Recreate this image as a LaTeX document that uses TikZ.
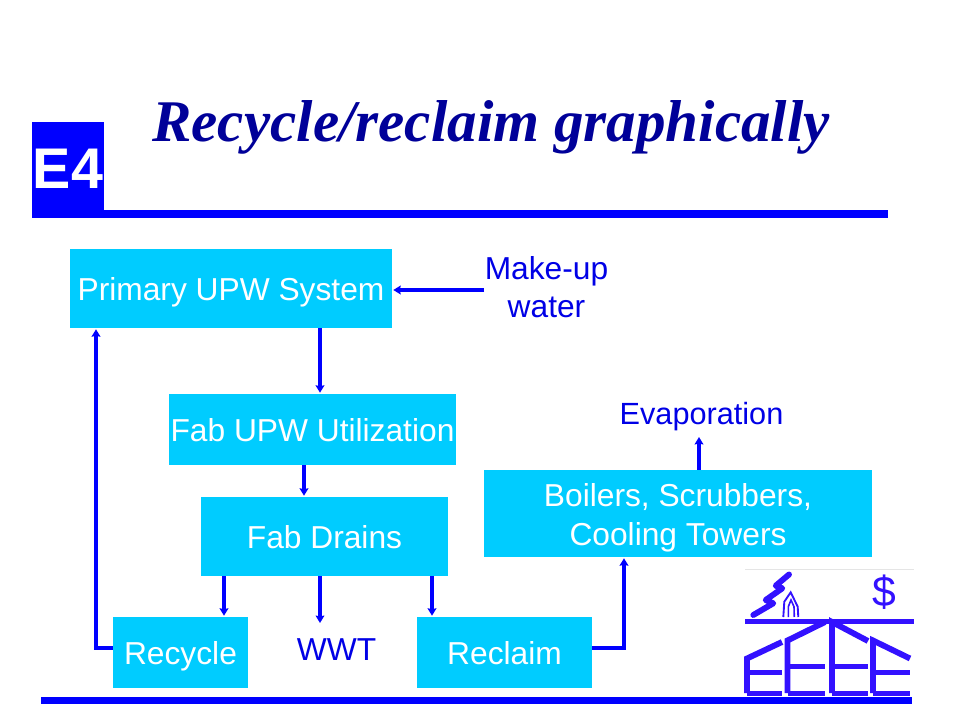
\documentclass[tikz,border=0pt]{standalone}
\usepackage{fontspec}
\setmainfont{Liberation Sans}
\newfontfamily\titlefont{Liberation Serif}
\definecolor{boxcyan}{RGB}{0,204,255}
\definecolor{linkblue}{RGB}{0,0,255}
\definecolor{textblue}{RGB}{0,0,230}
\definecolor{titleblue}{RGB}{0,0,153}
\definecolor{logoblue}{RGB}{51,17,255}
\usetikzlibrary{arrows.meta}
\tikzset{
  flowbox/.style={fill=boxcyan, text=white, inner sep=0pt, align=center, text height=22pt, text depth=4pt, font=\fontsize{23.8}{29.25}\selectfont},
  flowtext/.style={text=textblue, inner sep=0pt, align=center, font=\fontsize{23.8}{28.5}\selectfont},
  link/.style={draw=linkblue, line width=3pt, -{Stealth[length=5.5pt,width=6.5pt,inset=0.5pt]}, shorten >=0.75pt},
  logoline/.style={draw=logoblue, line width=4.4pt}
}
\begin{document}
\begin{tikzpicture}[x=0.75pt, y=-0.75pt]
\useasboundingbox (0, 0) rectangle (960, 720);
%Header
\fill [linkblue] (32, 122) rectangle (104, 218);
\fill [linkblue] (104, 210) rectangle (888, 218);
\fill [linkblue] (41, 697) rectangle (912, 704);
\node (tag) at (68, 168.5) [inner sep=0pt, text=white, font=\fontsize{43}{43}\selectfont\bfseries] {E4};
\node (title) at (491, 127) [inner sep=0pt, text=titleblue, font=\titlefont\fontsize{44.3}{45}\selectfont\bfseries\itshape] {Recycle/reclaim graphically};
%Boxes
\node (primary) at (231, 288.5) [flowbox, minimum width=322*0.75pt, minimum height=79*0.75pt] {Primary UPW System};
\node (fabupw) at (312.5, 429.5) [flowbox, minimum width=287*0.75pt, minimum height=71*0.75pt] {Fab UPW Utilization};
\node (drains) at (324.5, 536.5) [flowbox, minimum width=247*0.75pt, minimum height=79*0.75pt] {Fab Drains};
\node (recycle) at (180.5, 652.5) [flowbox, minimum width=135*0.75pt, minimum height=71*0.75pt] {Recycle};
\node (reclaim) at (504.5, 652.5) [flowbox, minimum width=175*0.75pt, minimum height=71*0.75pt] {Reclaim};
\node (boilers) at (678, 513.5) [flowbox, text height=51.25pt, minimum width=388*0.75pt, minimum height=87*0.75pt] {Boilers, Scrubbers,\\Cooling Towers};
%Text
\node (makeup) at (546.5, 287) [flowtext] {Make-up\\water};
\node (evap) at (701.5, 417) [flowtext, font=\fontsize{23}{28}\selectfont] {Evaporation};
\node (wwt) at (336.5, 650) [flowtext] {WWT};
\coordinate (makeupend) at (484, 290);
\coordinate (wwtend) at (320, 624);
\coordinate (evapend) at (699, 436);
%Connectors
\draw [link] (makeupend) -- (makeupend -| primary.east);
\draw [link] (primary.south -| 320, 0) -- (fabupw.north -| 320, 0);
\draw [link] (fabupw.south -| 304, 0) -- (drains.north -| 304, 0);
\draw [link] (drains.south -| 224, 0) -- (recycle.north -| 224, 0);
\draw [link] (drains.south -| wwtend) -- (wwtend);
\draw [link] (drains.south -| 432, 0) -- (reclaim.north -| 432, 0);
\draw [link] (recycle.west |- 0, 648) -| (primary.south -| 96, 0);
\draw [link] (reclaim.east |- 0, 648) -| (boilers.south -| 624, 0);
\draw [link] (boilers.north -| evapend) -- (evapend);
%Logo
\draw [black!10, line width=0.5pt] (745, 569.5) -- (914, 569.5);
\draw [logoline, line width=3.75pt] (745, 621) -- (914, 621);
\draw [logoline] (747, 693) -- (747, 658.5) -- (782, 642);
\draw [logoline] (747, 672.5) -- (782, 672.5);
\draw [logoline] (747, 693.5) -- (782, 693.5);
\draw [logoline] (787.5, 693) -- (787.5, 640.5) -- (825, 622);
\draw [logoline] (787.5, 666.5) -- (825, 666.5);
\draw [logoline] (787.5, 693.5) -- (825, 693.5);
\draw [logoline] (832, 693) -- (832, 622) -- (868, 641);
\draw [logoline] (832, 666.5) -- (868, 666.5);
\draw [logoline] (832, 693.5) -- (868, 693.5);
\draw [logoline] (873, 693) -- (873, 640.5) -- (910, 658.5);
\draw [logoline] (873, 672.5) -- (910, 672.5);
\draw [logoline] (873, 693.5) -- (910, 693.5);
\draw [logoline, line cap=round, line join=round] (789, 574.5) -- (775.7, 585.7) -- (782.3, 588.3) -- (765.7, 600) -- (773.3, 603.3) -- (753.3, 615);
\draw [logoline, line width=1.4pt] (783.3, 617) -- (784.3, 601.7) -- (790.7, 592.3) -- (797.7, 606.7) -- (798.3, 617);
\draw [logoline, line width=1.2pt] (788.3, 617) -- (788.3, 606.7) -- (791, 600) -- (794, 606.7) -- (794.3, 617);
\node (dollar) at (884, 592) [inner sep=0pt, text=logoblue, font=\fontsize{32}{32}\selectfont] {\$};
\end{tikzpicture}
\end{document}
